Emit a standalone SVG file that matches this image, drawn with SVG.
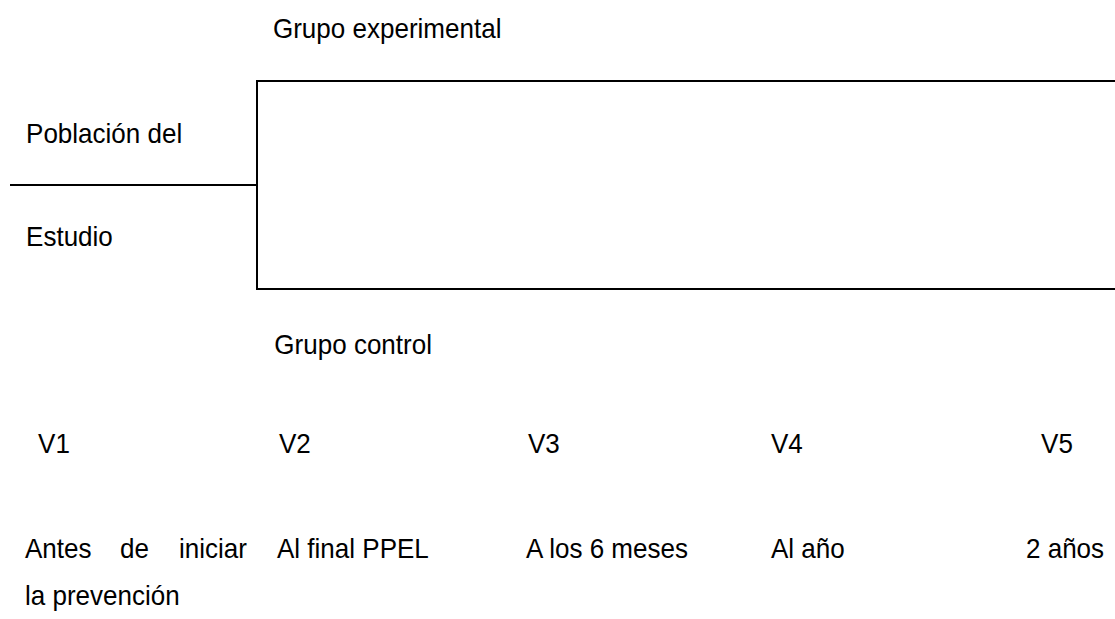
<svg xmlns="http://www.w3.org/2000/svg" width="1115" height="619" viewBox="0 0 1115 619">
  <style>
    text { font-family: "Liberation Sans", Arial, sans-serif; font-size: 28px; fill: #000; }
    .ln { stroke: #000; stroke-width: 2; fill: none; }
  </style>
  <rect width="1115" height="619" fill="#fff"/>
  <g id="connectors">
    <path class="ln" d="M10,185 H257"/>
    <path class="ln" d="M1115,81 H257 V289 H1115"/>
  </g>
  <g id="grupo-experimental" transform="scale(0.93,1)"><text x="293.5" y="38">Grupo experimental</text></g>
  <g id="poblacion" transform="scale(0.93,1)"><text x="28" y="143">Población del</text><text x="28" y="246">Estudio</text></g>
  <g id="grupo-control" transform="scale(0.93,1)"><text x="295" y="354">Grupo control</text></g>
  <g id="v1" transform="scale(0.93,1)"><text x="40.9" y="453">V1</text>
    <text y="558"><tspan x="26.9">Antes</tspan><tspan x="129">de</tspan><tspan x="192.5">iniciar</tspan></text>
    <text x="26.9" y="605">la prevención</text></g>
  <g id="v2" transform="scale(0.93,1)"><text x="300" y="453">V2</text><text x="297.8" y="558">Al final PPEL</text></g>
  <g id="v3" transform="scale(0.93,1)"><text x="567.7" y="453">V3</text><text x="565.6" y="558">A los 6 meses</text></g>
  <g id="v4" transform="scale(0.93,1)"><text x="829" y="453">V4</text><text x="829" y="558">Al año</text></g>
  <g id="v5" transform="scale(0.93,1)"><text x="1119.4" y="453">V5</text><text x="1103.2" y="558">2 años</text></g>
</svg>
